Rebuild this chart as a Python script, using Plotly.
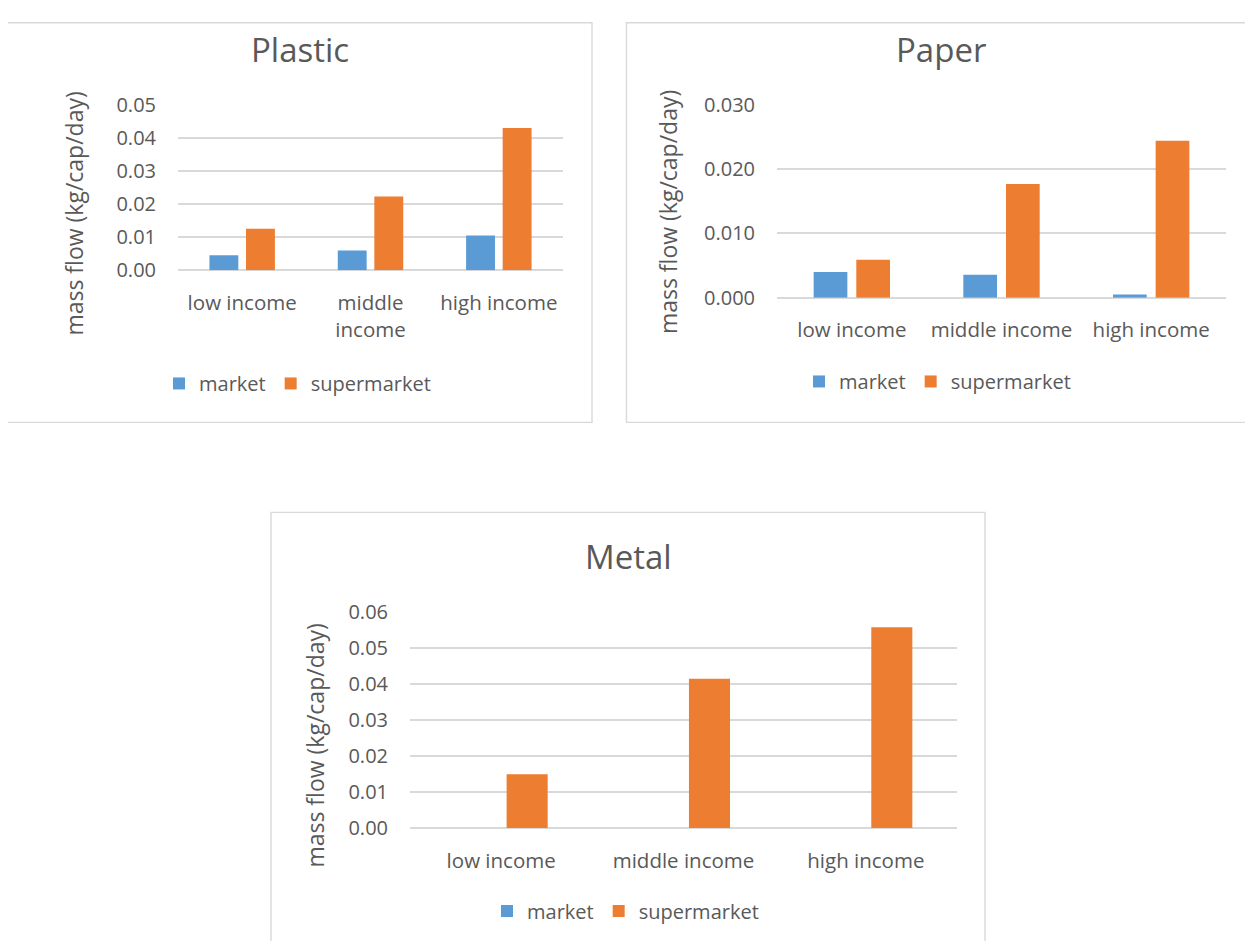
import plotly.graph_objects as go

# ---------------- data ----------------
categories = ["low income", "middle income", "high income"]
plastic_ticktext = ["low income", "middle<br>income", "high income"]
paper_ticktext = ["low income", "middle income", "high income"]
metal_ticktext = ["low income", "middle income", "high income"]

series_names = ["market", "supermarket"]

plastic_market = [0.0045, 0.0060, 0.0105]
plastic_supermarket = [0.0125, 0.0223, 0.0430]

paper_market = [0.0040, 0.0036, 0.0005]
paper_supermarket = [0.0059, 0.0177, 0.0244]

metal_market = [0.0, 0.0, 0.0]
metal_supermarket = [0.0149, 0.0414, 0.0557]

titles = ["Plastic", "Paper", "Metal"]
y_title = "mass flow (kg/cap/day)"

# ---------------- style ----------------
X_OFF = 8                 # page offset observed horizontally
Y_OFF, Y_SCALE = 22.2, 0.972   # observed vertical placement of the page in the photo
W, H = 1253 - 16, 949 - 16
BLUE = "#5B9BD5"
ORANGE = "#ED7D31"
GRID = "#D9D9D9"
TXT = "#595959"
FONT = "Open Sans"


def px_x(p):
    return (p - X_OFF) / W


def px_y(p):
    fy = (p - Y_OFF) / Y_SCALE
    fy = max(fy, 0.7)
    return 1 - fy / H


fig = go.Figure()

panels = [
    dict(idx="", market=plastic_market, sup=plastic_supermarket, tt=plastic_ticktext,
         xd=(178, 563), yd=(270.7, 105), rng=[0, 0.05], fmt=".2f", legend="legend",
         title_xy=(300, 50), ytitle_xy=(74, 214), legend_xy=(159, 384)),
    dict(idx="2", market=paper_market, sup=paper_supermarket, tt=paper_ticktext,
         xd=(777, 1226), yd=(298.3, 105), rng=[0, 0.030], fmt=".3f", legend="legend2",
         title_xy=(941, 50), ytitle_xy=(667.5, 213), legend_xy=(799, 382)),
    dict(idx="3", market=metal_market, sup=metal_supermarket, tt=metal_ticktext,
         xd=(410, 957), yd=(829, 612.5), rng=[0, 0.06], fmt=".2f", legend="legend3",
         title_xy=(629, 557), ytitle_xy=(315.5, 747), legend_xy=(487, 912)),
]

for p in panels:
    xa = "x" + p["idx"]
    ya = "y" + p["idx"]
    fig.add_trace(go.Bar(x=categories, y=p["market"], name=series_names[0],
                         marker=dict(color=BLUE, line=dict(width=0)),
                         xaxis=xa, yaxis=ya, legend=p["legend"], hoverinfo="x+y"))
    fig.add_trace(go.Bar(x=categories, y=p["sup"], name=series_names[1],
                         marker=dict(color=ORANGE, line=dict(width=0)),
                         xaxis=xa, yaxis=ya, legend=p["legend"], hoverinfo="x+y"))

layout = dict(
    width=W, height=H,
    margin=dict(l=0, r=0, t=0, b=0),
    paper_bgcolor="white", plot_bgcolor="white",
    font=dict(family=FONT, color=TXT, size=20),
    barmode="group", bargap=0.43, bargroupgap=0.21,
    showlegend=True,
)

legend_common = dict(orientation="h", xanchor="left", yanchor="middle",
                     font=dict(size=20, color=TXT, family=FONT),
                     bgcolor="rgba(0,0,0,0)", borderwidth=0, itemclick=False,
                     itemdoubleclick=False, traceorder="normal")

annotations = []
for p, t in zip(panels, titles):
    xk = "xaxis" + p["idx"]
    yk = "yaxis" + p["idx"]
    layout[xk] = dict(
        domain=[px_x(p["xd"][0]), px_x(p["xd"][1])],
        anchor="y" + p["idx"],
        type="category",
        tickmode="array", tickvals=categories, ticktext=p["tt"],
        showgrid=False, showline=False, zeroline=False,
        ticks="outside", ticklen=14, tickcolor="rgba(0,0,0,0)",
        tickfont=dict(size=20.5, color=TXT, family=FONT),
        fixedrange=True,
    )
    layout[yk] = dict(
        domain=[px_y(p["yd"][0]), px_y(p["yd"][1])],
        anchor="x" + p["idx"],
        range=p["rng"], dtick=0.01, tickformat=p["fmt"],
        showgrid=True, gridcolor=GRID, gridwidth=1.6,
        zeroline=True, zerolinecolor=GRID, zerolinewidth=1.6,
        showline=False,
        ticks="outside", ticklen=17, tickcolor="rgba(0,0,0,0)",
        tickfont=dict(size=20, color=TXT, family=FONT),
        fixedrange=True,
    )
    layout[p["legend"]] = dict(legend_common, x=px_x(p["legend_xy"][0]), y=px_y(p["legend_xy"][1]))
    annotations.append(dict(text=t, x=px_x(p["title_xy"][0]), y=px_y(p["title_xy"][1]),
                            xref="paper", yref="paper", showarrow=False,
                            font=dict(size=33, color=TXT, family=FONT),
                            xanchor="center", yanchor="middle"))
    annotations.append(dict(text=y_title, x=px_x(p["ytitle_xy"][0]), y=px_y(p["ytitle_xy"][1]),
                            xref="paper", yref="paper", showarrow=False, textangle=-90,
                            font=dict(size=23, color=TXT, family=FONT),
                            xanchor="center", yanchor="middle"))
layout["annotations"] = annotations

box = dict(type="rect", xref="paper", yref="paper", line=dict(color=GRID, width=1.4),
           fillcolor="rgba(0,0,0,0)", layer="below")
layout["shapes"] = [
    dict(box, x0=px_x(6.5), x1=px_x(592), y0=px_y(423), y1=px_y(5.5)),
    dict(box, x0=px_x(626.5), x1=px_x(1252), y0=px_y(423), y1=px_y(5.5)),
    dict(box, x0=px_x(271), x1=px_x(985), y0=px_y(975), y1=px_y(513)),
]

fig.update_layout(**layout)
fig.write_html("out.html", config={"displayModeBar": False})
